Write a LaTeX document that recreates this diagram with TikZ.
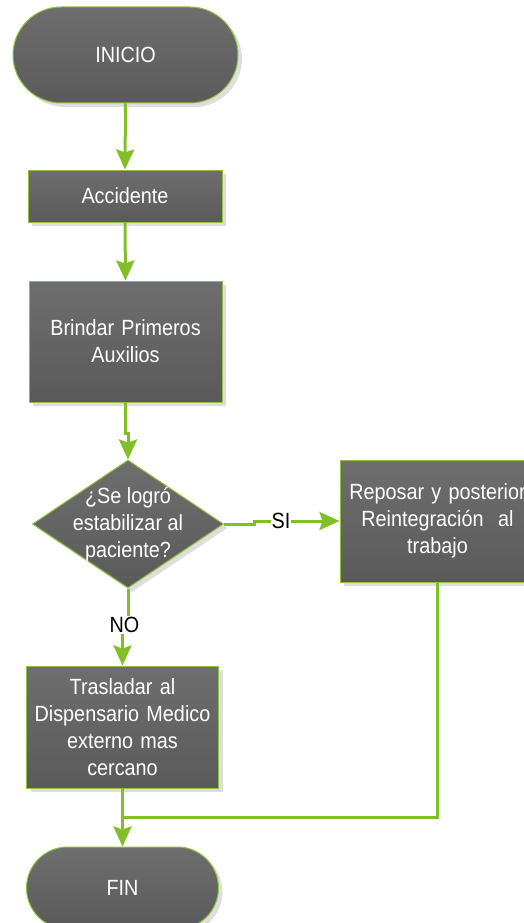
\documentclass[tikz,border=0pt]{standalone}
\usepackage{fontspec}
\setmainfont{Liberation Sans}[FakeStretch=0.9]
\usetikzlibrary{arrows.meta,shapes.geometric,shadows}
\definecolor{lgreen}{RGB}{130,190,40}
\definecolor{bordergreen}{RGB}{140,195,60}
\definecolor{boxtop}{RGB}{110,110,110}
\definecolor{boxbot}{RGB}{90,90,90}
\definecolor{shadowgray}{RGB}{222,222,222}
\tikzset{
  base/.style={draw=bordergreen, line width=1pt, top color=boxtop, bottom color=boxbot,
    text=white, inner sep=0pt, align=center,
    font=\fontsize{22}{27}\selectfont,
    drop shadow={shadow xshift=4pt, shadow yshift=-4pt, fill=shadowgray, opacity=1}},
  procbox/.style={base, rectangle},
  termbox/.style={base, rectangle},
  decbox/.style={base, diamond, aspect=1.5},
  inner/.style={text=white, align=center, inner sep=0pt, font=\fontsize{22}{27}\selectfont},
  conn/.style={draw=lgreen, line width=3pt},
  arrowconn/.style={conn, -{Stealth[length=20pt,width=18pt,inset=3pt]}},
  lbl/.style={fill=white, text=black, inner sep=1pt, font=\fontsize{22}{24}\selectfont},
}
\begin{document}
\begin{tikzpicture}[x=1pt,y=-1pt]
\useasboundingbox (0,0) rectangle (523,923);
% nodes
\node[termbox, minimum width=225pt, minimum height=96pt, rounded corners=48pt] (inicio) at (125.5,55) {INICIO};
\node[procbox, minimum width=194pt, minimum height=52pt] (acc) at (125,196) {Accidente};
\node[procbox, minimum width=193pt, minimum height=121pt, text width=193pt] (brindar) at (125.5,341.5) {Brindar Primeros\\Auxilios};
\node[decbox, minimum width=191pt, minimum height=128pt] (dec) at (128,524) {};
\node[inner] (dectext) at (128,525) {¿Se logró\\estabilizar al\\paciente?};
\node[procbox, minimum width=195pt, minimum height=122pt, text width=195pt] (rep) at (437.5,521) {Reposar y posterior\\Reintegración\ \ al\\trabajo};
\node[procbox, minimum width=192pt, minimum height=122pt, text width=192pt] (tras) at (122.5,727) {Trasladar al\\Dispensario Medico\\externo mas\\cercano};
\node[termbox, minimum width=192pt, minimum height=82pt, rounded corners=41pt] (fin) at (122.5,888) {FIN};
\coordinate (junc) at (122.5,817);
% connectors
\draw[arrowconn] (inicio.south) -- (acc.north);
\draw[arrowconn] (acc.south) -- (brindar.north);
\draw[arrowconn] (brindar.south) -- ++(0,31) -| (dec.north);
\draw[arrowconn] (dec.east) -- ++(30,0) |- (rep.west);
\draw[arrowconn] (dec.south) -- ++(0,36) -| (tras.north);
\draw[conn] (rep.south) |- (junc);
\draw[arrowconn] (tras.south) -- (fin.north);
% labels
\node[lbl] (si) at (281,521) {SI};
\node[lbl] (no) at (124.5,625) {NO};
\end{tikzpicture}
\end{document}
